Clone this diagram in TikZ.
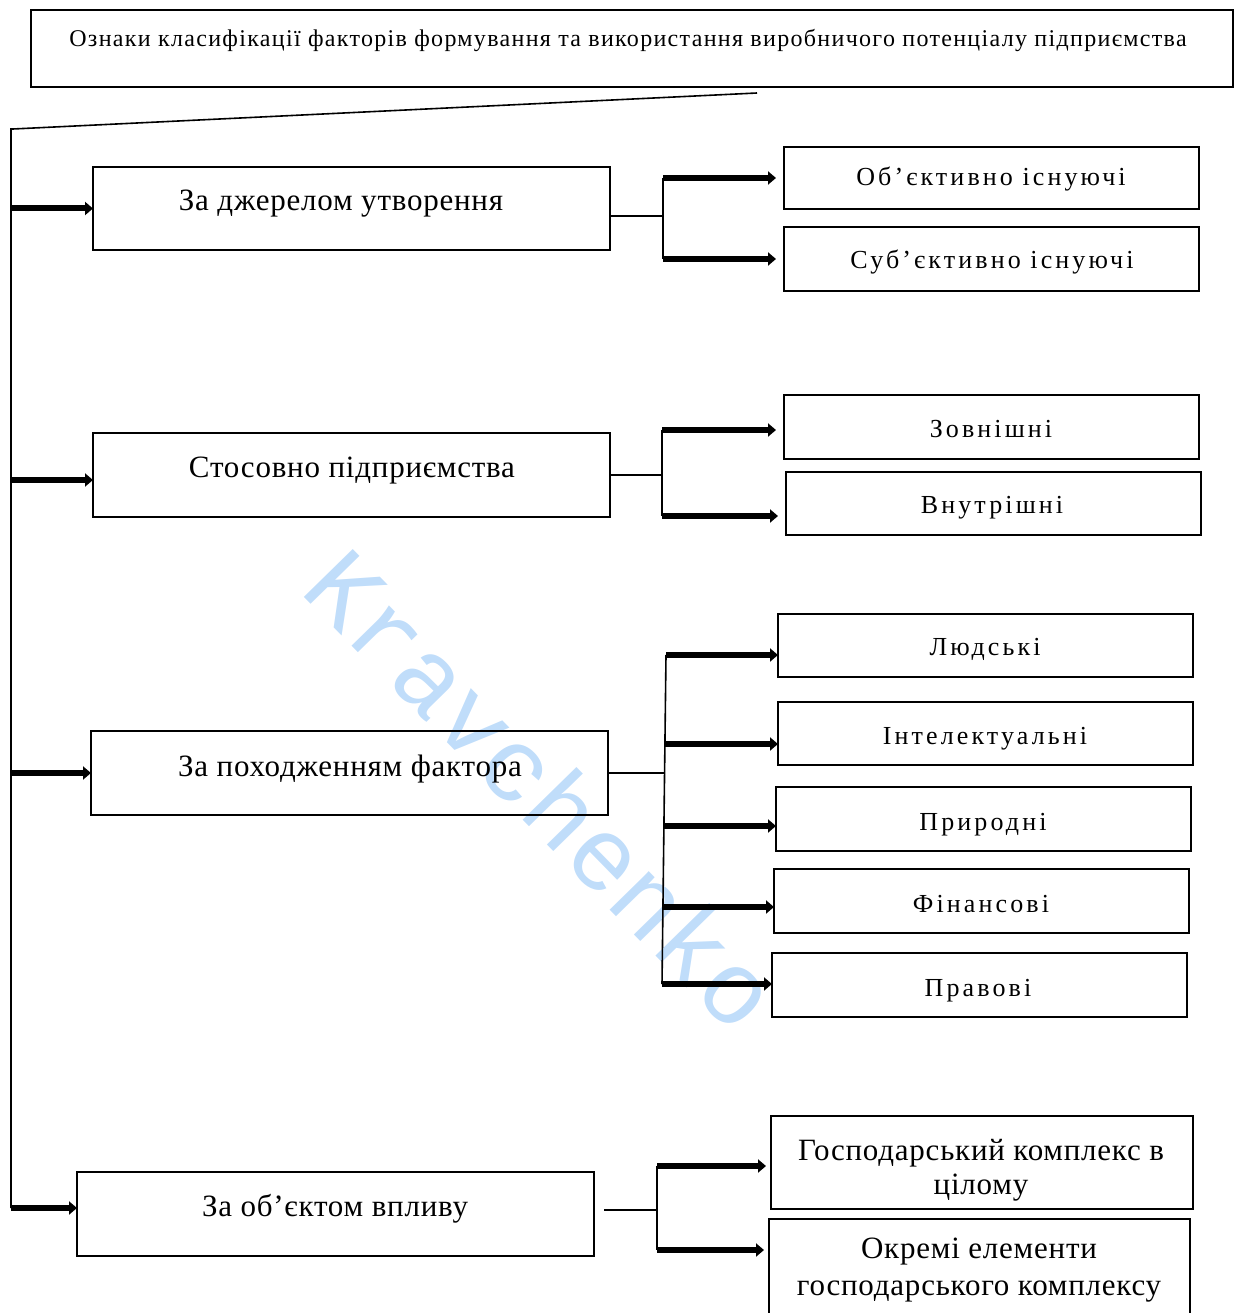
\documentclass[tikz,border=0pt]{standalone}
\usepackage{fontspec}
\setmainfont{Liberation Serif}
\newfontfamily\wmfont{Liberation Mono}
\usetikzlibrary{arrows.meta}
\definecolor{wmblue}{RGB}{192,221,250}
\begin{document}
\begin{tikzpicture}[x=1pt,y=-1pt,
  box/.style={draw, line width=1.8pt, inner sep=0pt, outer sep=0pt},
  big/.style={anchor=base, inner sep=0pt, font=\fontsize{31}{34}\selectfont\addfontfeature{LetterSpace=2.5}},
  small/.style={anchor=base, inner sep=0pt, font=\fontsize{26}{28}\selectfont\addfontfeature{LetterSpace=12}},
  ttl/.style={anchor=base, inner sep=0pt, font=\fontsize{24}{26}\selectfont\addfontfeature{LetterSpace=5.5}},
  thin/.style={line width=1.6pt},
  arr/.style={line width=6pt, -{Triangle[length=8pt,width=13pt]}},
]
\useasboundingbox (0,0) rectangle (1237,1313);
% watermark
\node[text=wmblue, rotate=-45.6, font=\wmfont\fontsize{104}{104}\selectfont] (wm) at (543,788) {Kravchenko};

% title
\node[box, minimum width=1202, minimum height=77] (title) at (632,48.5) {};
\node[ttl] (ttlt) at (628,47) {Ознаки класифікації факторів формування та використання виробничого потенціалу підприємства};

% left boxes
\node[box, minimum width=517, minimum height=83] (b1) at (351.5,208.5) {};
\node[box, minimum width=517, minimum height=84] (b2) at (351.5,475) {};
\node[box, minimum width=517, minimum height=84] (b3) at (349.5,773) {};
\node[box, minimum width=517, minimum height=84] (b4) at (335.5,1214) {};
\node[big] (b1t) at (341,211) {За джерелом утворення};
\node[big] (b2t) at (352,477) {Стосовно підприємства};
\node[big] (b3t) at (350,776) {За походженням фактора};
\node[big] (b4t) at (335,1216) {За об’єктом впливу};

% right boxes
\node[box, minimum width=415, minimum height=62] (r11) at (991.5,178) {};
\node[box, minimum width=415, minimum height=64] (r12) at (991.5,259) {};
\node[box, minimum width=415, minimum height=64] (r21) at (991.5,427) {};
\node[box, minimum width=415, minimum height=63] (r22) at (993.5,503.5) {};
\node[box, minimum width=415, minimum height=63] (r31) at (985.5,645.5) {};
\node[box, minimum width=415, minimum height=63] (r32) at (985.5,733.5) {};
\node[box, minimum width=415, minimum height=64] (r33) at (983.5,819) {};
\node[box, minimum width=415, minimum height=64] (r34) at (981.5,901) {};
\node[box, minimum width=415, minimum height=64] (r35) at (979.5,985) {};
\node[box, minimum width=422, minimum height=93] (r41) at (982,1162.5) {};
\node[box, minimum width=421, minimum height=97] (r42) at (979.5,1267.5) {};

\node[small] (r11t) at (991,186) {Об’єктивно існуючі};
\node[small] (r12t) at (992,269) {Суб’єктивно існуючі};
\node[small] (r21t) at (991,437) {Зовнішні};
\node[small] (r22t) at (992,513) {Внутрішні};
\node[small] (r31t) at (985,655) {Людські};
\node[small] (r32t) at (985,744) {Інтелектуальні};
\node[small] (r33t) at (983,830) {Природні};
\node[small] (r34t) at (981,912) {Фінансові};
\node[small] (r35t) at (978,996) {Правові};
\node[big] (r41a) at (981,1160) {Господарський комплекс в};
\node[big] (r41b) at (981,1194) {цілому};
\node[big] (r42a) at (979,1258) {Окремі елементи};
\node[big] (r42b) at (979,1295) {господарського комплексу};

% spine
\coordinate (slant) at (757,93);
\coordinate (spinetop) at (11,129);
\coordinate (spinebot) at (11,1208);
\draw[thin] (slant) -- (13,129) -- (spinetop) -- (spinebot);
\draw[arr] (spinetop |- b1.west) -- (b1.west);
\draw[arr] ([yshift=-5]spinetop |- b2.west) -- ([yshift=-5]b2.west);
\draw[arr] (spinetop |- b3.west) -- (b3.west);
\draw[arr] (spinebot) -- (b4.west |- spinebot);

% group 1
\coordinate (h1) at (663,216);
\draw[thin] (b1.east |- h1) -- (h1);
\draw[thin] (h1 |- r11.west) -- (h1 |- r12.west);
\draw[arr, shorten >=8pt] (h1 |- r11.west) -- (r11.west);
\draw[arr, shorten >=8pt] (h1 |- r12.west) -- (r12.west);

% group 2
\coordinate (h2) at (662,475);
\coordinate (a21) at (662,430);
\coordinate (a22) at (662,516);
\draw[thin] (b2.east |- h2) -- (h2);
\draw[thin] (a21) -- (a22);
\draw[arr, shorten >=8pt] (a21) -- (r21.west |- a21);
\draw[arr, shorten >=8pt] (a22) -- (r22.west |- a22);

% group 3
\coordinate (h3) at (665,773);
\coordinate (a31) at (666,655);
\coordinate (a32) at (665,744);
\coordinate (a33) at (664,826);
\coordinate (a34) at (663,907);
\coordinate (a35) at (662,984);
\draw[thin] (b3.east |- h3) -- (h3);
\draw[thin] (a31) -- (a35);
\draw[arr] (a31) -- (r31.west |- a31);
\draw[arr] (a32) -- (r32.west |- a32);
\draw[arr] (a33) -- (r33.west |- a33);
\draw[arr] (a34) -- (r34.west |- a34);
\draw[arr] (a35) -- (r35.west |- a35);

% group 4
\coordinate (h4) at (657,1210);
\coordinate (a41) at (657,1166);
\coordinate (a42) at (657,1250);
\draw[thin] ([xshift=10]b4.east |- h4) -- (h4);
\draw[thin] (a41) -- (a42);
\draw[arr, shorten >=5pt] (a41) -- (r41.west |- a41);
\draw[arr, shorten >=5pt] (a42) -- (r42.west |- a42);
\end{tikzpicture}
\end{document}
